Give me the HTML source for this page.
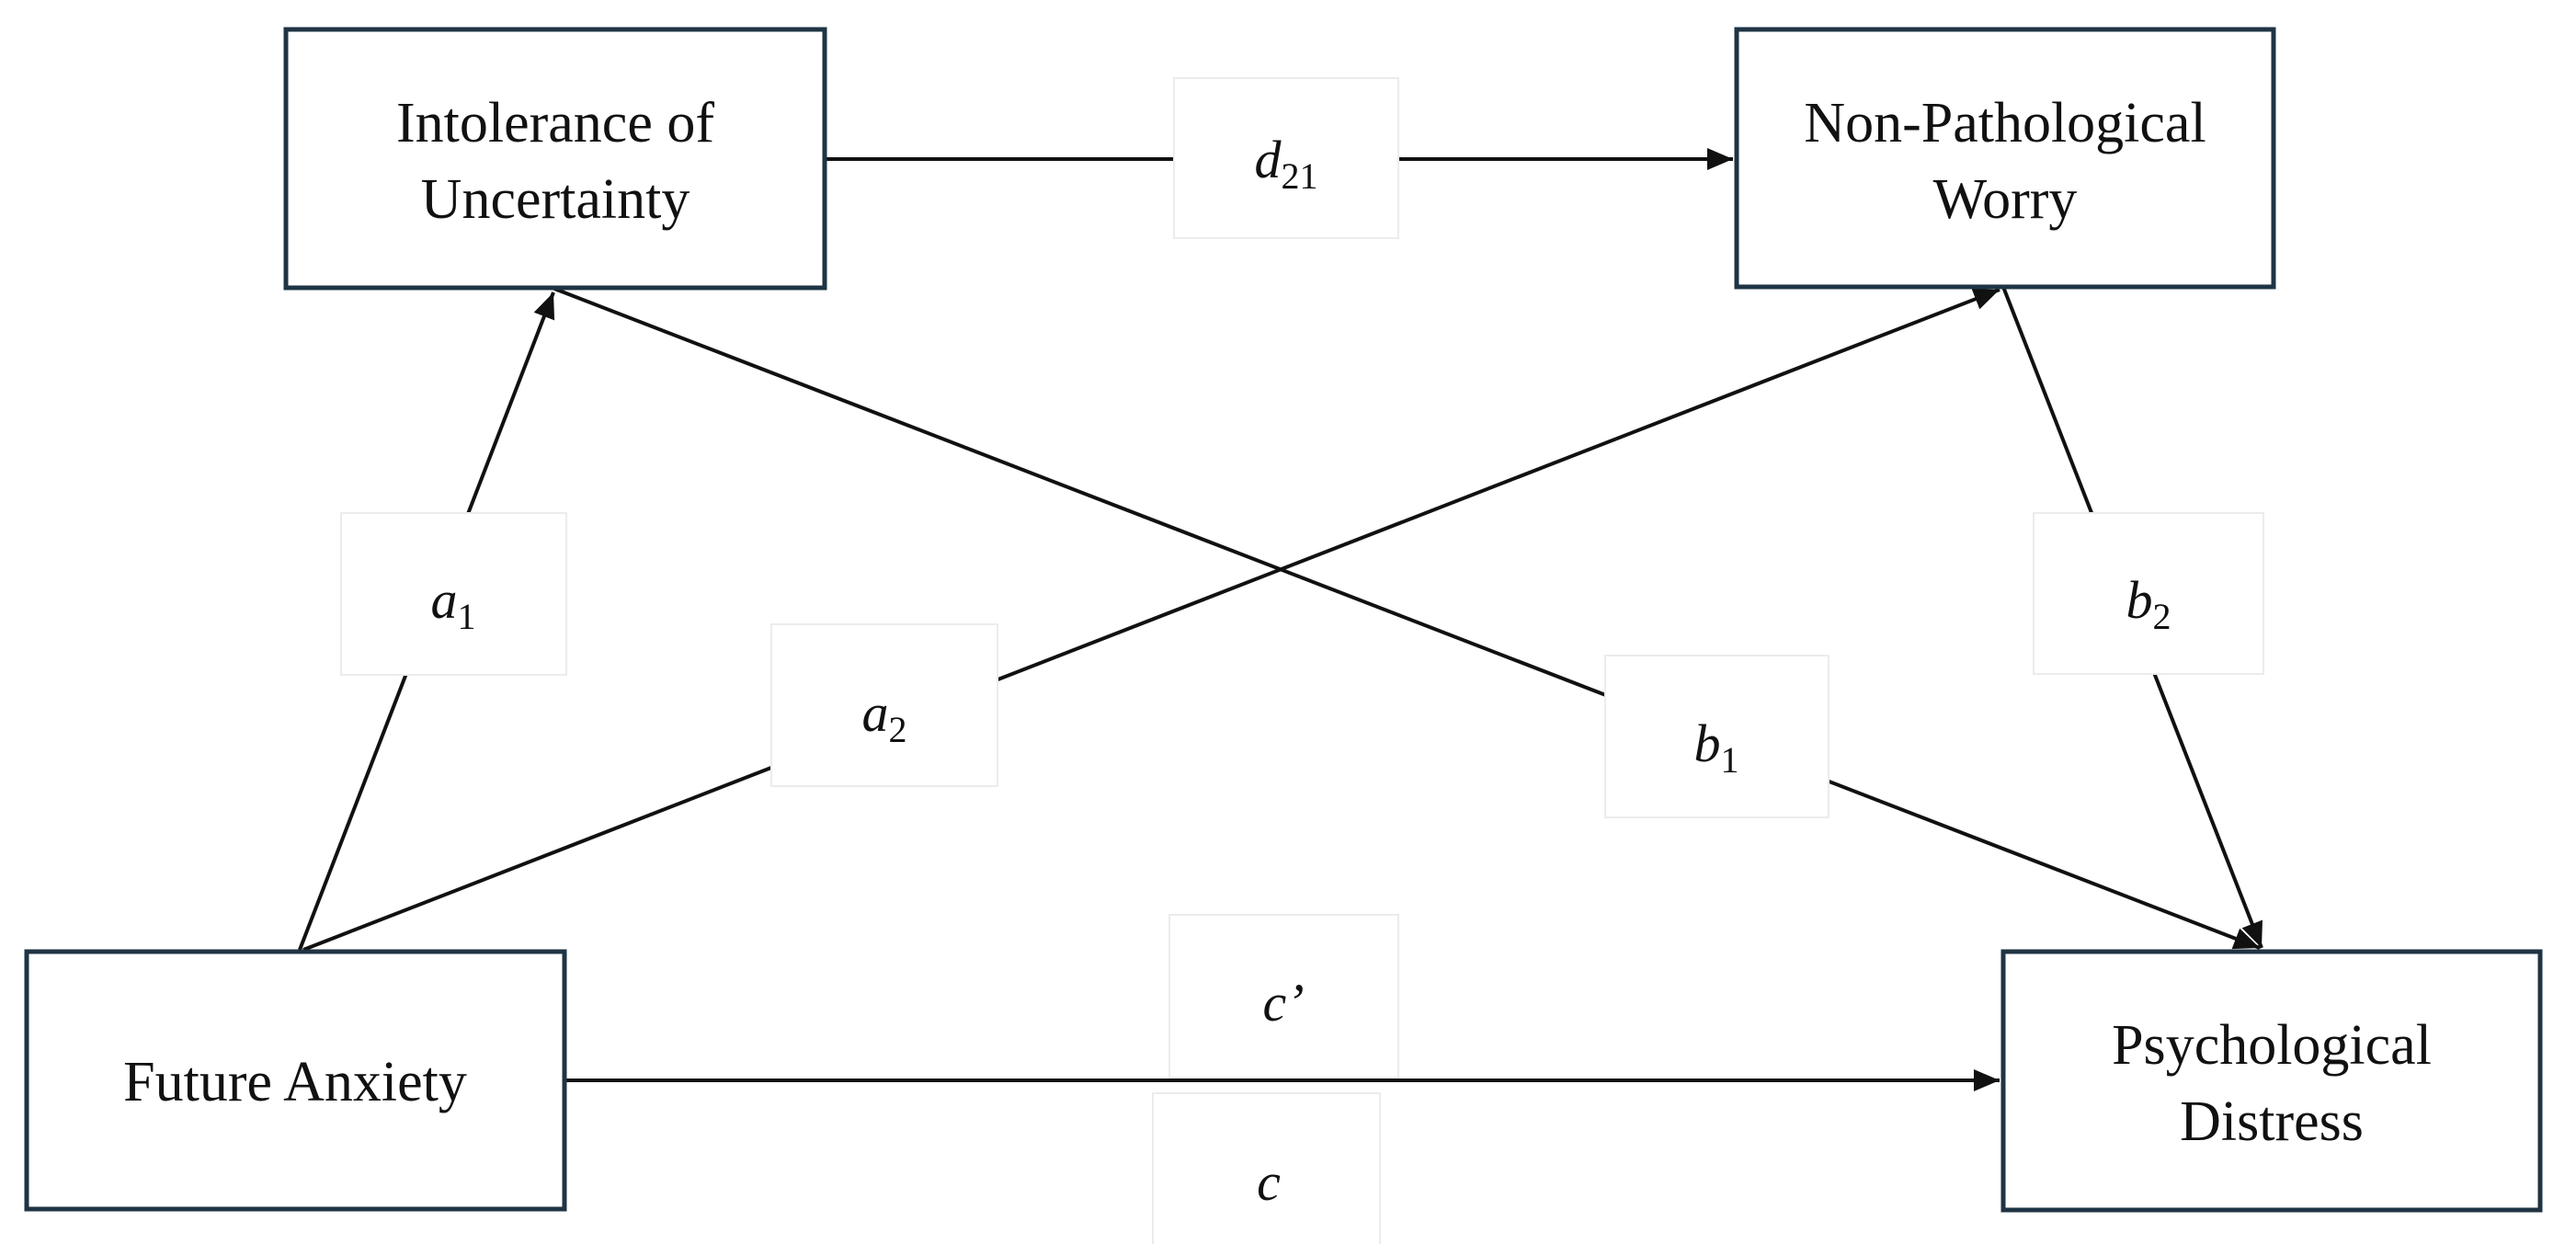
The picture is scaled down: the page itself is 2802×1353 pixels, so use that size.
<!DOCTYPE html>
<html><head><meta charset="utf-8"><style>
html,body{margin:0;padding:0;background:#fff;}
svg{display:block;}
.n{font-family:"Liberation Serif",serif;font-size:62px;fill:#111;text-anchor:middle;}
.l{font-family:"Liberation Serif",serif;font-size:58px;font-style:italic;fill:#111;text-anchor:middle;}
.s{font-size:40px;font-style:normal;}
</style></head><body>
<svg width="2802" height="1353" viewBox="0 0 2802 1353" xmlns="http://www.w3.org/2000/svg">
<defs><marker id="ah" markerWidth="8" markerHeight="8" refX="7" refY="4" orient="auto" markerUnits="strokeWidth"><path d="M0,1 L7,4 L0,7 z" fill="#111"/></marker></defs>
<g stroke="#111" stroke-width="4" fill="none">
<line x1="897" y1="173" x2="1885" y2="173" marker-end="url(#ah)"/>
<line x1="326" y1="1033" x2="602" y2="318" marker-end="url(#ah)"/>
<line x1="330" y1="1033" x2="2175" y2="315" marker-end="url(#ah)"/>
<line x1="603" y1="314" x2="2458" y2="1031" marker-end="url(#ah)"/>
<line x1="2179" y1="312" x2="2460" y2="1031" marker-end="url(#ah)"/>
<line x1="614" y1="1175" x2="2175" y2="1175" marker-end="url(#ah)"/>
</g>
<g fill="#fff" stroke="#1f3444" stroke-width="5">
<rect x="311" y="32" width="586" height="281"/>
<rect x="1889" y="32" width="584" height="280"/>
<rect x="29" y="1035" width="585" height="280"/>
<rect x="2179" y="1035" width="584" height="281"/>
</g>
<g fill="#fff" stroke="#ececec" stroke-width="2">
<rect x="1277" y="85" width="244" height="174"/>
<rect x="371" y="558" width="245" height="176"/>
<rect x="839" y="679" width="246" height="176"/>
<rect x="1746" y="713" width="243" height="176"/>
<rect x="2212" y="558" width="250" height="175"/>
<rect x="1272" y="995" width="249" height="177"/>
<rect x="1254" y="1189" width="247" height="170"/>
</g>
<text class="n" x="604" y="154">Intolerance of</text>
<text class="n" x="604" y="237">Uncertainty</text>
<text class="n" x="2181" y="154">Non-Pathological</text>
<text class="n" x="2181" y="237">Worry</text>
<text class="n" x="321" y="1197">Future Anxiety</text>
<text class="n" x="2471" y="1157">Psychological</text>
<text class="n" x="2471" y="1240">Distress</text>
<text class="l" x="1399" y="193">d<tspan class="s" dy="12">21</tspan></text>
<text class="l" x="493" y="672">a<tspan class="s" dy="12">1</tspan></text>
<text class="l" x="962" y="795">a<tspan class="s" dy="12">2</tspan></text>
<text class="l" x="1867" y="828">b<tspan class="s" dy="12">1</tspan></text>
<text class="l" x="2337" y="672">b<tspan class="s" dy="12">2</tspan></text>
<text class="l" x="1396" y="1110">c’</text>
<text class="l" x="1380" y="1305">c</text>
</svg>
</body></html>
